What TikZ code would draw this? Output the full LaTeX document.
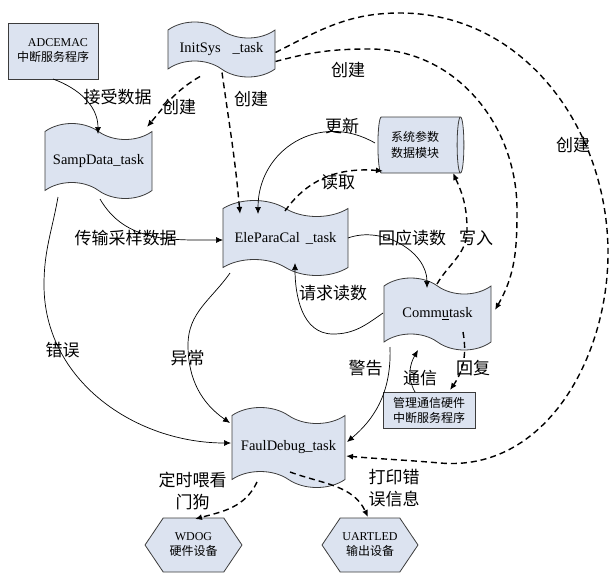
\documentclass[tikz,border=0pt]{standalone}
\usepackage{fontspec}
\setmainfont{Liberation Serif}
\newfontfamily\cjk{Noto Sans CJK SC}
\usetikzlibrary{shapes.symbols,shapes.geometric,arrows.meta,calc}
\definecolor{boxfill}{RGB}{220,227,240}
\definecolor{boxline}{RGB}{60,60,60}
\begin{document}
\begin{tikzpicture}[x=1pt,y=-1pt,
  taskbox/.style={tape, tape bend top=out and in, tape bend bottom=out and in,
    draw=boxline, fill=boxfill, line width=0.8pt, tape bend height=16pt,
    inner sep=0pt, font=\fontsize{14.5}{16}\selectfont},
  rectbox/.style={rectangle, draw=boxline, fill=boxfill, line width=0.8pt, align=center,
    inner sep=0pt, font=\cjk\fontsize{12}{15}\selectfont},
  hexbox/.style={signal, signal to=west and east, signal pointer angle=112, draw=boxline,
    fill=boxfill, line width=0.8pt, align=center, inner sep=0pt, font=\cjk\fontsize{12}{15}\selectfont},
  dbbox/.style={cylinder, shape aspect=0.25, draw=boxline, fill=boxfill, line width=0.8pt,
    align=center, inner sep=0pt, font=\cjk\fontsize{12}{16}\selectfont},
  lbl/.style={font=\cjk\fontsize{17}{22}\selectfont, inner sep=0pt, align=center},
  solidarr/.style={-{Latex[length=7pt,width=6pt]}, line width=0.7pt},
  dasharr/.style={-{Latex[length=7pt,width=6pt]}, line width=1.4pt, dash pattern=on 6pt off 4pt},
]
\useasboundingbox (0,0) rectangle (609,573);

% nodes
\node[rectbox, minimum width=90, minimum height=56] (adc) at (53,51)
  {\hspace*{10pt}{\rmfamily ADCEMAC}\\中断服务程序};
\node[taskbox, minimum width=107, minimum height=55] (init) at (221.5,49.5) {InitSys\hspace{12pt}\_task};
\node[taskbox, minimum width=107, minimum height=75] (samp) at (98.5,161) {SampData\_task};
\node[taskbox, minimum width=125, minimum height=75] (ele) at (285.5,238) {EleParaCal\hspace{6pt}\_task};
\node[taskbox, minimum width=107, minimum height=72] (comm) at (437.5,314) {Comm\underline{u}task};
\node[taskbox, minimum width=113, minimum height=80] (faul) at (288.5,447.5) {FaulDebug\_task};
\node[dbbox, minimum width=56, minimum height=86] (sys) at (419,145) {\hspace*{-8pt}系统参数\\\hspace*{-8pt}数据模块};
\node[rectbox, minimum width=92, minimum height=36] (cbox) at (429,410) {管理通信硬件\\中断服务程序};
\node[hexbox, minimum width=97, minimum height=54] (wdog) at (193.5,545) {{\rmfamily WDOG}\\硬件设备};
\node[hexbox, minimum width=96, minimum height=54] (uart) at (370,545) {{\rmfamily UARTLED}\\输出设备};

% connectors
\draw[solidarr] ($(adc)+(0,28)$) to[out=-20,in=90] ($(samp)+(-0.5,-27)$);
\draw[dasharr] ($(init)+(-21.5,27)$) to[out=210,in=50] ($(samp)+(48.5,-34)$);
\draw[dasharr] ($(init)+(0.5,23)$) to[out=-82,in=95] ($(ele)+(-45.5,-24)$);
% outer arc
\draw[dasharr] ($(init)+(54,3)$) to[out=27,in=180] (400,13) to[out=0,in=90] (608,253)
  to[out=-90,in=-5] (440,463) to[out=175,in=-5] ($(faul)+(57.5,8.5)$);
% middle arc
\draw[dasharr] ($(init)+(54,12)$) to[out=15,in=180] (370,49) to[out=0,in=90] (517,210)
  to[out=-90,in=60] ($(comm)+(57.5,-4)$);
% write
\draw[dasharr] ($(comm)+(-0.5,-30)$) to[out=60,in=-90] (467,230) to[out=90,in=-65] ($(sys)+(34,28)$);
% update
\draw[solidarr] ($(sys)+(-44,-2)$) to[out=150,in=90,looseness=1.2] ($(ele)+(-27.5,-24)$);
% read
\draw[dasharr] ($(ele)+(-0.5,-27)$) to[out=55,in=175] ($(sys)+(-36,26)$);
% transfer
\draw[solidarr] ($(samp)+(1.5,38)$) to[out=-60,in=180] ($(ele)+(-62.5,2)$);
% reply read
\draw[solidarr] ($(ele)+(62.5,0)$) to[out=20,in=90] ($(comm)+(-10.5,-26)$);
% request read
\draw[solidarr] ($(comm)+(-54.5,-1)$) to[out=-145,in=0] (333,334) to[out=180,in=-90] ($(ele)+(9.5,25)$);
% error
\draw[solidarr] ($(samp)+(-40.5,36)$) to[out=-100,in=90] (44,285) to[out=-90,in=180] ($(faul)+(-57.5,-4.5)$);
% exception
\draw[solidarr] ($(ele)+(-55.5,35)$) to[out=-125,in=90] (188,345) to[out=-90,in=145] ($(faul)+(-58.5,-24.5)$);
% warning
\draw[solidarr] ($(comm)+(-47.5,33)$) to[out=-88,in=40] ($(faul)+(58.5,-5.5)$);
% comm
\draw[solidarr] ($(cbox)+(-14,-18)$) to[out=120,in=-120] ($(comm)+(-19.5,36)$);
% reply
\draw[dasharr] ($(comm)+(25.5,18)$) to[out=-80,in=55] ($(cbox)+(21,-20)$);
% watchdog
\draw[dasharr] ($(faul)+(-31.5,34.5)$) to[out=-115,in=15] ($(wdog)+(1.5,-26)$);
% print
\draw[dasharr] ($(faul)+(1.5,24.5)$) to[out=-20,in=115] ($(uart)+(-2,-28)$);

% labels
\node[lbl] (l1) at (117.5,97) {接受数据};
\node[lbl] (l2) at (179,107) {创建};
\node[lbl] (l3) at (251,99) {创建};
\node[lbl] (l4) at (348,70) {创建};
\node[lbl] (l5) at (573,145) {创建};
\node[lbl] (l6) at (342,126) {更新};
\node[lbl] (l7) at (338,182) {读取};
\node[lbl] (l8) at (125.5,238) {传输采样数据};
\node[lbl] (l9) at (412,238) {回应读数};
\node[lbl] (l10) at (476,238) {写入};
\node[lbl] (l11) at (333,293) {请求读数};
\node[lbl] (l12) at (62.5,350) {错误};
\node[lbl] (l13) at (187.5,358) {异常};
\node[lbl] (l14) at (365.5,368) {警告};
\node[lbl] (l15) at (420,378) {通信};
\node[lbl] (l16) at (473,368) {回复};
\node[lbl] (l17) at (192.5,491) {定时喂看\\门狗};
\node[lbl] (l18) at (394,488) {打印错\\误信息};
\end{tikzpicture}
\end{document}
